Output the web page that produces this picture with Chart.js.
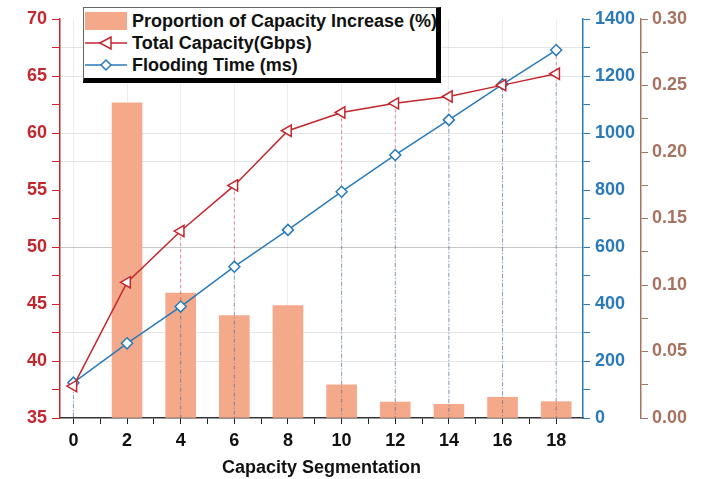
<!DOCTYPE html>
<html>
<head>
<meta charset="utf-8">
<script src="https://cdn.jsdelivr.net/npm/chart.js@4.4.0/dist/chart.umd.min.js"></script>
<style>
body{margin:0;background:#fff;}
#wrap{position:relative;width:702px;height:479px;}
#legend{position:absolute;left:83px;top:7px;width:352px;height:68px;background:#fff;
  border:1px solid #666;border-right:5px solid #000;border-bottom:5px solid #000;white-space:nowrap;
  font:bold 18px "Liberation Sans",Arial,sans-serif;color:#111;padding-top:2px;box-sizing:content-box;}
#legend .row{display:flex;align-items:center;height:22px;}
#legend svg{margin-left:1px;margin-right:5px;flex:none;}
</style>
</head>
<body>
<div id="wrap">
<canvas id="canvas-chart" width="702" height="479"></canvas>
<div id="legend">
  <div class="row"><svg width="42" height="18"><rect x="0" y="0" width="42" height="18" fill="#f5a98b"/></svg>Proportion of Capacity Increase (%)</div>
  <div class="row"><svg width="42" height="18"><line x1="0" y1="9" x2="42" y2="9" stroke="#c4262e" stroke-width="1.5"/><polygon points="15,9 26,3 26,15" fill="#fff" stroke="#c4262e" stroke-width="1.5"/></svg>Total Capacity(Gbps)</div>
  <div class="row"><svg width="42" height="18"><line x1="0" y1="9" x2="42" y2="9" stroke="#2a7ab9" stroke-width="1.5"/><polygon points="21,4 26,9 21,14 16,9" fill="#fff" stroke="#2a7ab9" stroke-width="1.5"/></svg>Flooding Time (ms)</div>
</div>
</div>
<script>
// data
const xValues = [0, 2, 4, 6, 8, 10, 12, 14, 16, 18];
const capacityIncrease = [null, 0.237, 0.094, 0.077, 0.0845, 0.025, 0.012, 0.0103, 0.0156, 0.0123];
const totalCapacity = [37.8, 46.9, 51.4, 55.4, 60.2, 61.8, 62.6, 63.2, 64.2, 65.2];
const floodingTime = [124, 262, 391, 531, 660, 794, 923, 1046, 1171, 1291];
const gridLeft = [40, 42.5, 50, 57.5, 60, 65, 67.5];
const dropX = [0, 4, 6, 10, 12, 14, 16, 18];

const RED = '#c4262e', BLUE = '#2a7ab9', BROWN = '#a5735f', BAR = '#f5a98b';
Chart.defaults.font.family = '"Liberation Sans", Arial, sans-serif';
Chart.defaults.font.weight = 'bold';
Chart.defaults.font.size = 18;

const pts = arr => xValues.map((x, i) => ({x: x, y: arr[i]}));

// dashed drop lines, drawn right after the bars
const dropLines = {
  id: 'dropLines',
  afterDatasetDraw(chart, args) {
    if (args.index !== 0) return;
    const ctx = chart.ctx;
    const red = chart.getDatasetMeta(1).data;
    const blue = chart.getDatasetMeta(2).data;
    const bottom = chart.chartArea.bottom;
    ctx.save();
    ctx.lineWidth = 1;
    xValues.forEach((x, i) => {
      if (!dropX.includes(x)) return;
      const r = red[i], b = blue[i];
      const top = Math.min(r.y, b.y);
      const mid = Math.max(r.y, b.y);
      ctx.setLineDash([3, 3]);
      ctx.strokeStyle = 'rgba(196,38,46,0.5)';
      ctx.beginPath(); ctx.moveTo(r.x, top); ctx.lineTo(r.x, mid); ctx.stroke();
      ctx.setLineDash([4, 2, 1, 2]);
      ctx.strokeStyle = 'rgba(42,90,150,0.55)';
      ctx.beginPath(); ctx.moveTo(b.x, mid); ctx.lineTo(b.x, bottom); ctx.stroke();
    });
    ctx.restore();
  }
};

const ctx = document.getElementById('canvas-chart').getContext('2d');
const myChart = new Chart(ctx, {
  type: 'bar',
  data: {
    datasets: [{
      type: 'bar',
      label: 'Proportion of Capacity Increase (%)',
      data: pts(capacityIncrease),
      backgroundColor: BAR,
      barThickness: 30,
      yAxisID: 'y2',
      order: 10
    }, {
      type: 'line',
      label: 'Total Capacity(Gbps)',
      data: pts(totalCapacity),
      borderColor: RED,
      borderWidth: 1.5,
      pointStyle: 'triangle',
      rotation: -90,
      pointRadius: 6.5,
      pointBorderWidth: 1.5,
      pointBackgroundColor: '#fff',
      pointBorderColor: RED,
      yAxisID: 'y'
    }, {
      type: 'line',
      label: 'Flooding Time (ms)',
      data: pts(floodingTime),
      borderColor: BLUE,
      borderWidth: 1.5,
      pointStyle: 'rectRot',
      pointRadius: 5.5,
      pointBorderWidth: 1.5,
      pointBackgroundColor: '#fff',
      pointBorderColor: BLUE,
      yAxisID: 'y1'
    }]
  },
  options: {
    responsive: false,
    animation: false,
    layout: {padding: {top: 19}},
    plugins: {legend: {display: false}, tooltip: {enabled: false}},
    scales: {
      x: {
        type: 'linear', min: -0.5, max: 19, offset: false,
        afterBuildTicks: s => { s.ticks = []; for (let v = 0; v <= 18; v++) s.ticks.push({value: v}); },
        afterFit: s => { s.height = 61; },
        ticks: {color: '#111', padding: 6, callback: v => (v % 2 === 0 ? v : '')},
        grid: {offset: false, color: c => (c.tick && c.tick.value % 2 === 0 ? 'rgba(0,0,0,0.07)' : 'transparent'),
               tickColor: '#222', tickLength: 6},
        border: {color: '#333', width: 1.5},
        title: {display: true, text: 'Capacity Segmentation', color: '#111', font: {size: 18}, padding: {top: 2, bottom: 0}}
      },
      y: {
        position: 'left', min: 35, max: 70,
        afterFit: s => { s.width = 60; },
        ticks: {stepSize: 2.5, color: RED, padding: 5, callback: v => (v % 5 === 0 ? v : '')},
        grid: {color: c => (c.tick && gridLeft.includes(c.tick.value) ? (c.tick.value === 50 ? 'rgba(0,0,0,0.22)' : 'rgba(0,0,0,0.1)') : 'transparent'),
               tickColor: RED, tickLength: 8},
        border: {color: RED, width: 1.5}
      },
      y1: {
        position: 'right', min: 0, max: 1400,
        afterFit: s => { s.width = 58; },
        ticks: {stepSize: 100, color: BLUE, padding: 5, callback: v => (v % 200 === 0 ? v : '')},
        grid: {drawOnChartArea: false, tickColor: BLUE, tickLength: 7},
        border: {color: BLUE, width: 1.5}
      },
      y2: {
        position: 'right', min: 0, max: 0.3,
        afterFit: s => { s.width = 61; },
        ticks: {stepSize: 0.025, color: BROWN, padding: 4,
                callback: v => (Math.abs(v / 0.05 - Math.round(v / 0.05)) < 1e-6 ? v.toFixed(2) : '')},
        grid: {drawOnChartArea: false, tickColor: BROWN, tickLength: 7},
        border: {color: BROWN, width: 1.5}
      }
    }
  },
  plugins: [dropLines]
});
</script>
</body>
</html>
